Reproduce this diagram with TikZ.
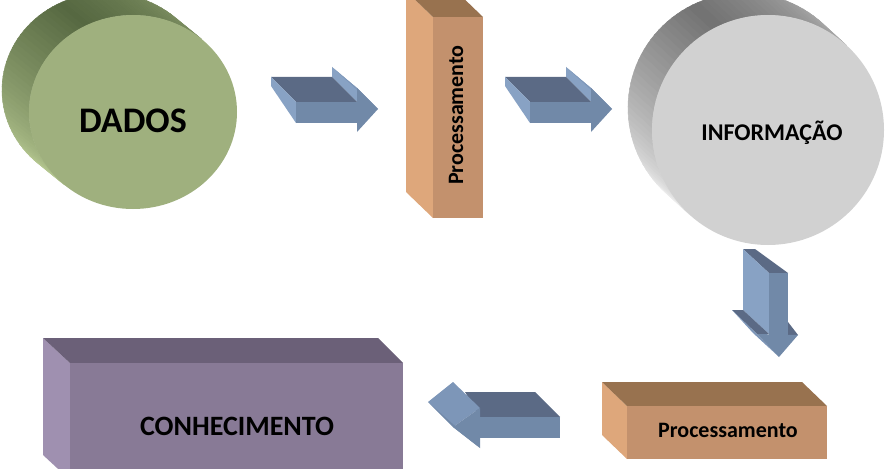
\documentclass[tikz,border=0pt]{standalone}
\usepackage{fontspec}
\setmainfont{Carlito}
\definecolor{arrdark}{HTML}{5B6A85}
\definecolor{arrmid}{HTML}{7189A8}
\definecolor{arrlight}{HTML}{88A2C4}
\definecolor{arrbevel}{HTML}{7D96B8}
\definecolor{orgtop}{HTML}{98724F}
\definecolor{orgfront}{HTML}{C3916D}
\definecolor{orgside}{HTML}{DEA77B}
\definecolor{purtop}{HTML}{6B6078}
\definecolor{purfront}{HTML}{887A96}
\definecolor{purside}{HTML}{9F90B0}
\definecolor{grnfront}{HTML}{9FB07E}
\definecolor{grndark}{HTML}{566841}
\definecolor{grnlight}{HTML}{B8CA93}
\definecolor{gryfront}{HTML}{D1D1D1}
\definecolor{grydark}{HTML}{727272}
\definecolor{grylight}{HTML}{EFEFEF}
\tikzset{
  txt/.style={text=black, inner sep=0pt},
  atop/.style={fill=arrdark},
  amid/.style={fill=arrmid},
  alight/.style={fill=arrlight},
  abevel/.style={fill=arrbevel},
  strip/.style={line width=0.5pt, line join=round}
}
\begin{document}
\begin{tikzpicture}[x=1pt,y=-1pt]
\useasboundingbox (0,0) rectangle (890,468);
\clip (0,0) rectangle (890,468);

% ---------- DADOS cylinder (side band as strips) ----------
\foreach \t in {48.86,51.86,...,226}{
  \pgfmathsetmacro\u{min(\t+3.3,228.86)}
  \pgfmathsetmacro\p{\t<115 ? 40*(115-\t)/66 : 100*(\t-115)/114}
  \filldraw[strip, fill=grnlight!\p!grndark, draw=grnlight!\p!grndark]
    ({106+104*cos(\t)},{90-97*sin(\t)}) -- ({106+104*cos(\u)},{90-97*sin(\u)})
    -- ({133+104*cos(\u)},{112-97*sin(\u)}) -- ({133+104*cos(\t)},{112-97*sin(\t)}) -- cycle;
}
\fill[grnfront] (133,112) ellipse [x radius=104pt, y radius=97pt];
\node[txt, font=\fontsize{36}{36}\selectfont\bfseries] (dados) at (133,121) {DADOS};

% ---------- INFORMACAO cylinder ----------
\foreach \t in {47.24,50.24,...,224.5}{
  \pgfmathsetmacro\u{min(\t+3.3,227.24)}
  \pgfmathsetmacro\p{\t<115 ? 45*(115-\t)/68 : 100*(\t-115)/112}
  \filldraw[strip, fill=grylight!\p!grydark, draw=grylight!\p!grydark]
    ({744+116*cos(\t)},{108-115*sin(\t)}) -- ({744+116*cos(\u)},{108-115*sin(\u)})
    -- ({768+116*cos(\u)},{130-115*sin(\u)}) -- ({768+116*cos(\t)},{130-115*sin(\t)}) -- cycle;
}
\fill[gryfront] (768,130) ellipse [x radius=116pt, y radius=115pt];
\node[txt, font=\fontsize{24}{24}\selectfont\bfseries] (info) at (772,133) {INFORMAÇÃO};

% ---------- vertical Processamento box ----------
\fill[orgside] (406,-9) -- (433,17) -- (433,218) -- (406,192) -- cycle;
\fill[orgtop] (406,-9) -- (456,-9) -- (483,17) -- (433,17) -- cycle;
\fill[orgfront] (433,17) rectangle (483,218);
\node[txt, rotate=90, font=\fontsize{22}{22}\selectfont\bfseries] (proc1) at (456,115) {Processamento};

% ---------- bottom Processamento box ----------
\fill[orgside] (602,382) -- (627,406) -- (627,459) -- (602,435) -- cycle;
\fill[orgtop] (602,382) -- (802,382) -- (827,406) -- (627,406) -- cycle;
\fill[orgfront] (627,406) rectangle (827,459);
\node[txt, font=\fontsize{22}{22}\selectfont\bfseries] (proc2) at (728,430) {Processamento};

% ---------- CONHECIMENTO box ----------
\fill[purside] (43,338) -- (70,363) -- (70,480) -- (43,455) -- cycle;
\fill[purtop] (43,338) -- (378,338) -- (403,363) -- (70,363) -- cycle;
\fill[purfront] (70,363) rectangle (403,480);
\node[txt, font=\fontsize{28}{28}\selectfont\bfseries] (conh) at (237,426) {CONHECIMENTO};

% ---------- arrows right (1 and 2) ----------
\foreach \dx in {0,234}{
\begin{scope}[xshift=\dx pt]
  \fill[alight] (332,67) -- (357,88) -- (357,102) -- (332,77) -- cycle;
  \fill[abevel] (332,67) -- (378,109) -- (357,88) -- cycle;
  \fill[atop] (271,77) -- (332,77) -- (357,102) -- (296,102) -- cycle;
  \fill[alight] (271,77) -- (296,102) -- (296,123) -- (271,86) -- cycle;
  \fill[amid] (296,102) rectangle (357,123);
  \fill[amid] (357,88) -- (378,109) -- (357,132) -- cycle;
\end{scope}
}

% ---------- arrow down (3) ----------
\fill[atop] (743,249) -- (755,249) -- (788,273) -- (769,273) -- cycle;
\fill[alight] (743,249) -- (769,273) -- (769,334) -- (743,310) -- cycle;
\fill[atop] (732,310) -- (743,310) -- (769,334) -- (757,334) -- cycle;
\fill[atop] (788,322) -- (798,335) -- (788,335) -- cycle;
\fill[abevel] (732,310) -- (757,334) -- (779,357) -- (753,333) -- cycle;
\fill[amid] (769,273) rectangle (788,335);
\fill[amid] (757,334) -- (798,335) -- (779,357) -- cycle;

% ---------- arrow left (4) ----------
\fill[atop] (465,392) -- (535,392) -- (560,417) -- (480,417) -- cycle;
\fill[amid] (480,417) rectangle (560,438);
\fill[abevel] (453,382) -- (480,408) -- (453,427) -- (428,402) -- cycle;
\fill[amid] (428,402) -- (453,427) -- (480,448) -- cycle;
\fill[amid] (480,408) -- (453,427) -- (480,448) -- cycle;
\end{tikzpicture}
\end{document}
